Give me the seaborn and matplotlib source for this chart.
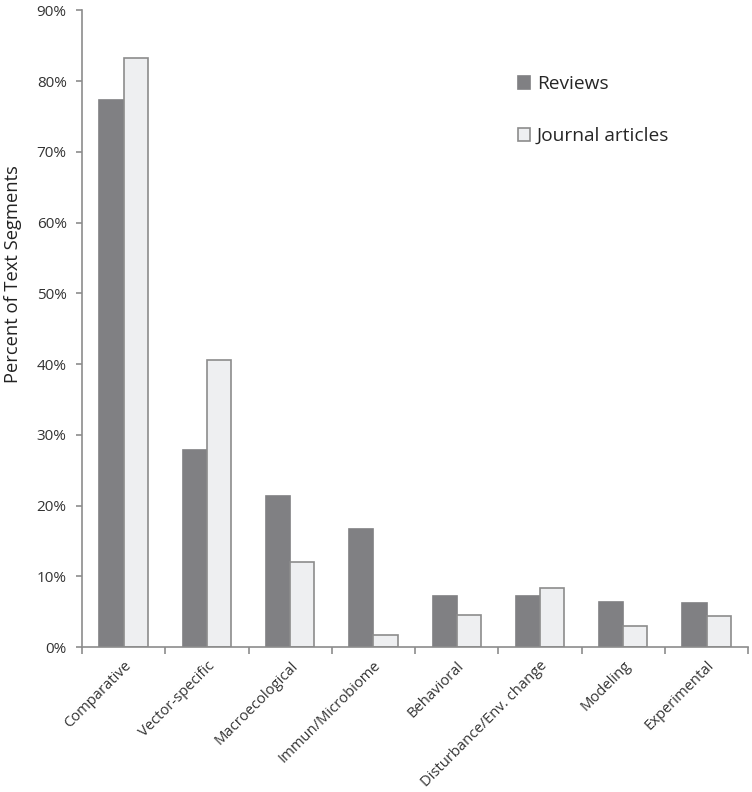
import matplotlib
matplotlib.use("Agg")
import matplotlib.pyplot as plt
import pandas as pd
import seaborn as sns
from matplotlib.ticker import FuncFormatter

# values (percent of text segments)
categories = ["Comparative", "Vector-specific", "Macroecological", "Immun/Microbiome",
              "Behavioral", "Disturbance/Env. change", "Modeling", "Experimental"]
reviews = [77.3, 27.9, 21.3, 16.7, 7.2, 7.2, 6.4, 6.2]
articles = [83.3, 40.6, 12.0, 1.7, 4.6, 8.3, 3.0, 4.4]
series = ["Reviews", "Journal articles"]
yticks = [0, 10, 20, 30, 40, 50, 60, 70, 80, 90]

df = pd.DataFrame({
    "category": categories * 2,
    "value": reviews + articles,
    "source": [series[0]] * len(categories) + [series[1]] * len(categories),
})

sns.set_style("white")
plt.rcParams["font.family"] = ["Open Sans", "DejaVu Sans"]

fig = plt.figure(figsize=(7.52, 7.92), dpi=100)
ax = fig.add_axes([0.109, 0.183, 0.886, 0.804])

sns.barplot(data=df, x="category", y="value", hue="source", order=categories,
            hue_order=series, palette=["#808083", "#eeeff1"], width=0.58,
            saturation=1, ax=ax)

# edge colours: dark bars without visible border, light bars with grey outline
for container, ec in zip(ax.containers, ["#808083", "#8c8c8c"]):
    for bar in container:
        bar.set_edgecolor(ec)
        bar.set_linewidth(1.2)

ax.set_ylim(0, 90)
ax.set_xlim(-0.5, len(categories) - 0.5)
ax.set_yticks(yticks)
ax.yaxis.set_major_formatter(FuncFormatter(lambda v, p: f"{v:.0f}%"))
ax.set_ylabel("Percent of Text Segments", fontsize=13.2, color="#222222")
ax.yaxis.set_label_coords(-0.09, 0.586)
ax.set_xlabel("")

# x ticks sit between categories
ax.set_xticks([i - 0.5 for i in range(len(categories) + 1)], minor=True)
ax.set_xticks(range(len(categories)))
ax.set_xticklabels(categories, rotation=45, ha="right", rotation_mode="anchor", fontsize=10.6)
ax.tick_params(axis="x", which="major", bottom=False, length=0, pad=8, labelcolor="#333333")
ax.tick_params(axis="x", which="minor", bottom=True, length=5, color="#8c8c8c",
               direction="out", width=1.2)
ax.tick_params(axis="y", left=True, length=4, color="#8c8c8c", direction="out", width=1.2,
               labelsize=11, labelcolor="#333333", pad=7)

for side in ["top", "right"]:
    ax.spines[side].set_visible(False)
for side in ["left", "bottom"]:
    ax.spines[side].set_color("#8c8c8c")
    ax.spines[side].set_linewidth(1.2)

leg = ax.legend(loc="upper left", bbox_to_anchor=(0.628, 0.925), frameon=False,
                fontsize=13.8, labelspacing=1.75, handlelength=0.65, handleheight=0.65,
                handletextpad=0.35)
for h, ec in zip(leg.legend_handles, ["#808083", "#8c8c8c"]):
    h.set_edgecolor(ec)
    h.set_linewidth(1.2)

fig.savefig("out.png", dpi=100)
